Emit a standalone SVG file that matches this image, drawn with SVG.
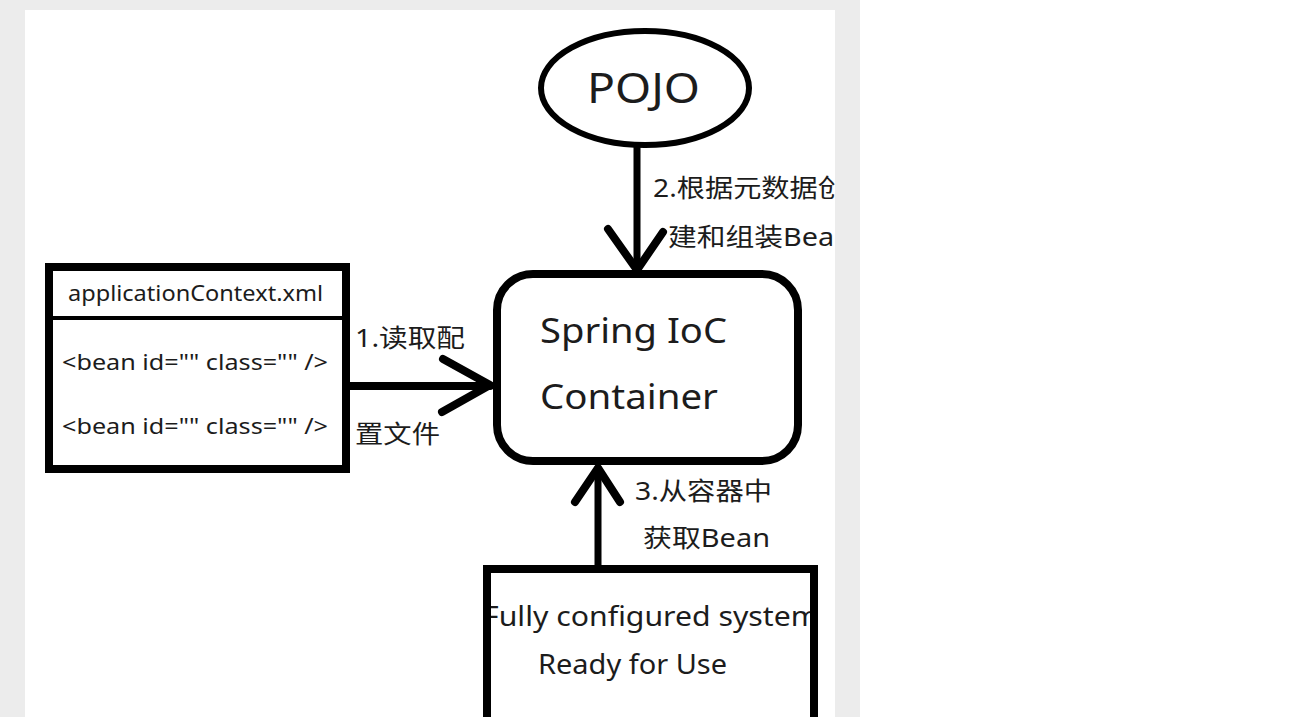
<svg xmlns="http://www.w3.org/2000/svg" width="1303" height="717" viewBox="0 0 1303 717">
<style>
  .t { font-family: "Noto Sans", "Noto Sans CJK SC", sans-serif; fill: #1c1c1c; }
  .shape { fill: #ffffff; stroke: #000000; }
  .conn { stroke: #000000; fill: none; stroke-linecap: round; stroke-linejoin: round; }
</style>
<defs>
  <clipPath id="panel"><rect x="25" y="10" width="810" height="707"/></clipPath>
  <clipPath id="fullyIn"><rect x="487" y="569" width="327" height="148"/></clipPath>
</defs>
<rect x="0" y="0" width="1303" height="717" fill="#ffffff"/>
<rect x="0" y="0" width="860" height="717" fill="#ececec"/>
<rect x="25" y="10" width="810" height="707" fill="#ffffff"/>
<g clip-path="url(#panel)">
  <g id="pojo">
    <ellipse class="shape" cx="645" cy="88" rx="104" ry="57" stroke-width="6"/>
    <text class="t" x="587" y="103" font-size="42" textLength="113" lengthAdjust="spacingAndGlyphs">POJO</text>
  </g>
  <g id="ioc">
    <rect class="shape" x="497" y="274" width="301" height="187" rx="36" stroke-width="8"/>
    <text class="t" x="540" y="343" font-size="34" textLength="187" lengthAdjust="spacingAndGlyphs">Spring IoC</text>
    <text class="t" x="540" y="409" font-size="34" textLength="178" lengthAdjust="spacingAndGlyphs">Container</text>
  </g>
  <g id="appctx">
    <rect class="shape" x="49" y="267" width="297" height="202" stroke-width="8"/>
    <line x1="49" y1="318" x2="346" y2="318" stroke="#000" stroke-width="4"/>
    <text class="t" x="68" y="301" font-size="21" textLength="255" lengthAdjust="spacingAndGlyphs">applicationContext.xml</text>
    <text class="t" x="62" y="370" font-size="21" textLength="266" lengthAdjust="spacingAndGlyphs">&lt;bean id="" class="" /&gt;</text>
    <text class="t" x="62" y="434" font-size="21" textLength="266" lengthAdjust="spacingAndGlyphs">&lt;bean id="" class="" /&gt;</text>
  </g>
  <g id="fully">
    <rect x="487" y="569" width="327" height="160" fill="#ffffff"/>
    <g clip-path="url(#fullyIn)">
      <text class="t" x="483" y="626" font-size="28" textLength="336" lengthAdjust="spacingAndGlyphs">Fully configured system</text>
    </g>
    <text class="t" x="538" y="674" font-size="28" textLength="189" lengthAdjust="spacingAndGlyphs">Ready for Use</text>
    <rect x="487" y="569" width="327" height="160" fill="none" stroke="#000" stroke-width="8"/>
  </g>
  <g id="connectors">
    <line class="conn" x1="637" y1="148" x2="637" y2="270" stroke-width="7"/>
    <polyline class="conn" points="608,229 637,270 663,232" stroke-width="8"/>
    <line class="conn" x1="350" y1="386" x2="490" y2="386" stroke-width="8"/>
    <polyline class="conn" points="443,359 490,385 442,412" stroke-width="8"/>
    <line class="conn" x1="598" y1="565" x2="598" y2="468" stroke-width="7"/>
    <polyline class="conn" points="575,502 598,468 620,502" stroke-width="8"/>
  </g>
  <g id="labels">
    <text class="t" x="653" y="197" font-size="25" textLength="193" lengthAdjust="spacingAndGlyphs">2.根据元数据创</text>
    <text class="t" x="668" y="246" font-size="25" textLength="184" lengthAdjust="spacingAndGlyphs">建和组装Bean</text>
    <text class="t" x="355" y="347" font-size="25" textLength="110" lengthAdjust="spacingAndGlyphs">1.读取配</text>
    <text class="t" x="355" y="443" font-size="25" textLength="85" lengthAdjust="spacingAndGlyphs">置文件</text>
    <text class="t" x="635" y="500" font-size="25" textLength="137" lengthAdjust="spacingAndGlyphs">3.从容器中</text>
    <text class="t" x="643" y="547" font-size="25" textLength="127" lengthAdjust="spacingAndGlyphs">获取Bean</text>
  </g>
</g>
</svg>
